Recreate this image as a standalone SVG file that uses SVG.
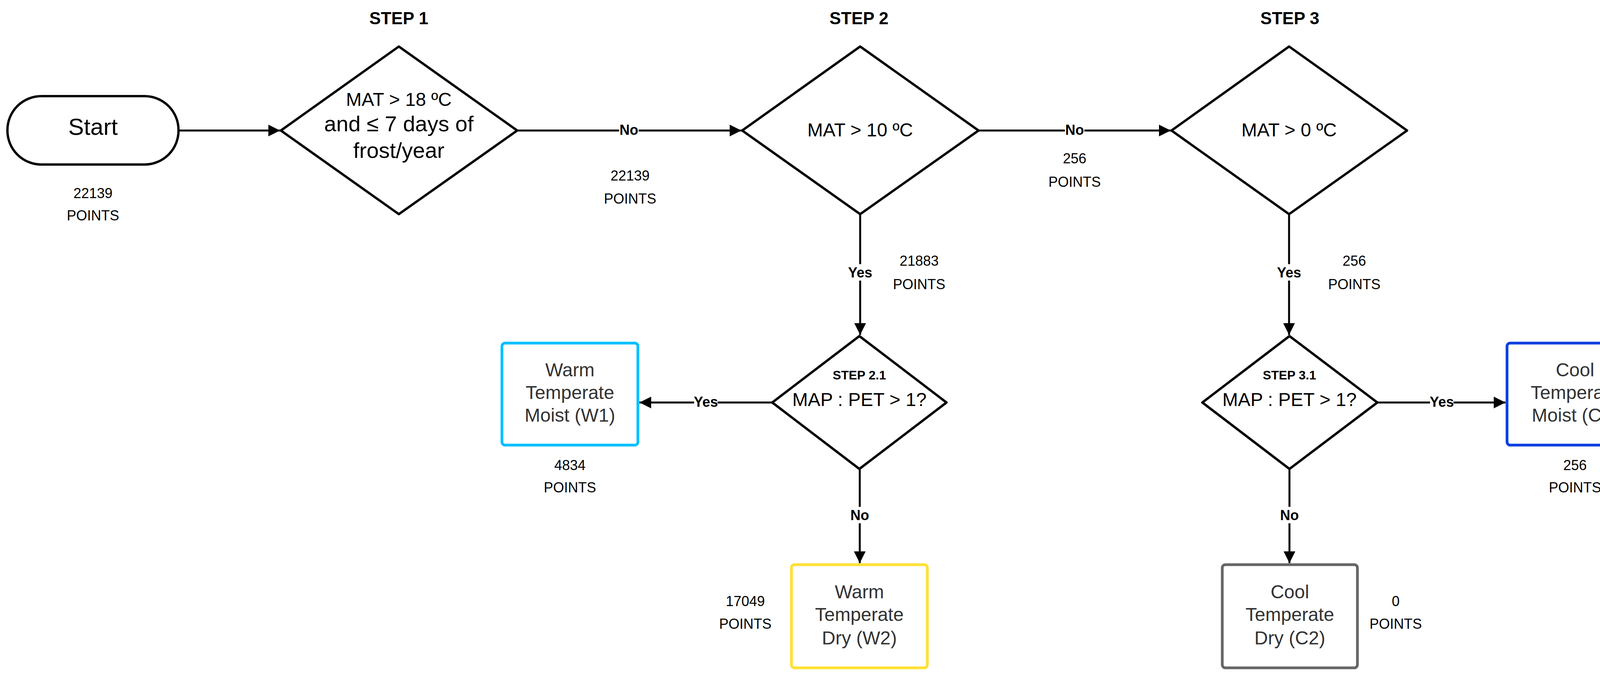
<svg xmlns="http://www.w3.org/2000/svg" width="4237" height="1735" viewBox="0 0 4237 1735">
<style>
text{font-family:"Liberation Sans",Arial,sans-serif;text-anchor:middle;dominant-baseline:central}
.shape{fill:#fff;stroke:#000;stroke-width:6;stroke-linejoin:round}
.box{fill:#fff;stroke-width:7}
.step{font-weight:bold;font-size:44px}
.pts{font-size:36px;fill:#000}
.lbl{font-weight:bold;font-size:36px}
.in{font-size:48px;fill:#000}
.bt{font-size:48px;fill:#333}
.conn line{stroke:#000;stroke-width:5}
.lb{fill:#fff}
</style>
<defs>
<marker id="ah" viewBox="0 0 10 10" refX="10" refY="5" markerWidth="7" markerHeight="6" markerUnits="strokeWidth" orient="auto"><path d="M0,0L10,5L0,10z" fill="#000"/></marker>
</defs>
<text class="step" x="1021" y="46">STEP 1</text>
<text class="step" x="2199" y="46">STEP 2</text>
<text class="step" x="3302" y="46">STEP 3</text>
<g id="connectors" class="conn">
<line x1="457" y1="334" x2="717" y2="334" marker-end="url(#ah)"/>
<line x1="1324" y1="334" x2="1898" y2="334" marker-end="url(#ah)"/>
<line x1="2505" y1="334" x2="2997" y2="334" marker-end="url(#ah)"/>
<line x1="2202" y1="548" x2="2202" y2="857" marker-end="url(#ah)"/>
<line x1="3300" y1="548" x2="3300" y2="857" marker-end="url(#ah)"/>
<line x1="1977" y1="1030" x2="1637" y2="1030" marker-end="url(#ah)"/>
<line x1="2201" y1="1200" x2="2201" y2="1441" marker-end="url(#ah)"/>
<line x1="3526" y1="1030" x2="3854" y2="1030" marker-end="url(#ah)"/>
<line x1="3301" y1="1200" x2="3301" y2="1441" marker-end="url(#ah)"/>
<rect class="lb" x="1585" y="312" width="50" height="42"/><text class="lbl" x="1610" y="332">No</text>
<rect class="lb" x="2726" y="312" width="50" height="42"/><text class="lbl" x="2751" y="332">No</text>
<rect class="lb" x="2172" y="676" width="60" height="42"/><text class="lbl" x="2202" y="697">Yes</text>
<rect class="lb" x="3270" y="676" width="60" height="42"/><text class="lbl" x="3300" y="697">Yes</text>
<rect class="lb" x="1777" y="1009" width="60" height="42"/><text class="lbl" x="1807" y="1028">Yes</text>
<rect class="lb" x="3661" y="1009" width="60" height="42"/><text class="lbl" x="3691" y="1028">Yes</text>
<rect class="lb" x="2176" y="1297" width="50" height="42"/><text class="lbl" x="2201" y="1318">No</text>
<rect class="lb" x="3276" y="1297" width="50" height="42"/><text class="lbl" x="3301" y="1318">No</text>
<text class="pts" x="1613" y="449">22139</text><text class="pts" x="1613" y="508">POINTS</text>
<text class="pts" x="2751" y="405">256</text><text class="pts" x="2751" y="465">POINTS</text>
<text class="pts" x="2353" y="667">21883</text><text class="pts" x="2353" y="727">POINTS</text>
<text class="pts" x="3467" y="667">256</text><text class="pts" x="3467" y="727">POINTS</text>
</g>
<g id="start">
<rect class="shape" x="19" y="246" width="438" height="175" rx="87"/>
<text x="238" y="324" style="font-size:60px">Start</text>
<text class="pts" x="238" y="494">22139</text><text class="pts" x="238" y="551">POINTS</text>
</g>
<g id="step1">
<polygon class="shape" points="1021,119 1324,334 1021,548 719,334"/>
<text class="in" x="1021" y="254">MAT &gt; 18 ºC</text>
<text x="1021" y="316" style="font-size:56px">and ≤ 7 days of</text>
<text x="1021" y="384" style="font-size:56px">frost/year</text>
</g>
<g id="step2">
<polygon class="shape" points="2202,119 2505,334 2202,548 1900,334"/>
<text class="in" x="2202" y="332">MAT &gt; 10 ºC</text>
</g>
<g id="step3">
<polygon class="shape" points="3300,119 3602,334 3300,548 2999,334"/>
<text class="in" x="3300" y="332">MAT &gt; 0 ºC</text>
</g>
<g id="step21">
<polygon class="shape" points="2200,860 2423,1030 2200,1200 1977,1030"/>
<text x="2200" y="960" style="font-size:32px;font-weight:bold">STEP 2.1</text>
<text class="in" x="2200" y="1022">MAP : PET &gt; 1?</text>
</g>
<g id="step31">
<polygon class="shape" points="3301,860 3526,1030 3301,1200 3078,1030"/>
<text x="3301" y="960" style="font-size:32px;font-weight:bold">STEP 3.1</text>
<text class="in" x="3301" y="1022">MAP : PET &gt; 1?</text>
</g>
<g id="w1">
<rect class="box" x="1285" y="878" width="348" height="261" rx="8" stroke="#00BFFF"/>
<text class="bt" x="1459" y="946">Warm</text><text class="bt" x="1459" y="1004">Temperate</text><text class="bt" x="1459" y="1062">Moist (W1)</text>
<text class="pts" x="1459" y="1190">4834</text><text class="pts" x="1459" y="1247">POINTS</text>
</g>
<g id="w2">
<rect class="box" x="2026" y="1445" width="348" height="264" rx="8" stroke="#FFE033"/>
<text class="bt" x="2200" y="1514">Warm</text><text class="bt" x="2200" y="1572">Temperate</text><text class="bt" x="2200" y="1632">Dry (W2)</text>
<text class="pts" x="1908" y="1538">17049</text><text class="pts" x="1908" y="1596">POINTS</text>
</g>
<g id="c1">
<rect class="box" x="3858" y="878" width="347" height="261" rx="8" stroke="#0A3FE0"/>
<text class="bt" x="4032" y="946">Cool</text><text class="bt" x="4032" y="1004">Temperate</text><text class="bt" x="4032" y="1062">Moist (C1)</text>
<text class="pts" x="4032" y="1190">256</text><text class="pts" x="4032" y="1247">POINTS</text>
</g>
<g id="c2">
<rect class="box" x="3129" y="1445" width="346" height="264" rx="8" stroke="#666"/>
<text class="bt" x="3302" y="1514">Cool</text><text class="bt" x="3302" y="1572">Temperate</text><text class="bt" x="3302" y="1632">Dry (C2)</text>
<text class="pts" x="3573" y="1538">0</text><text class="pts" x="3573" y="1596">POINTS</text>
</g>
</svg>
